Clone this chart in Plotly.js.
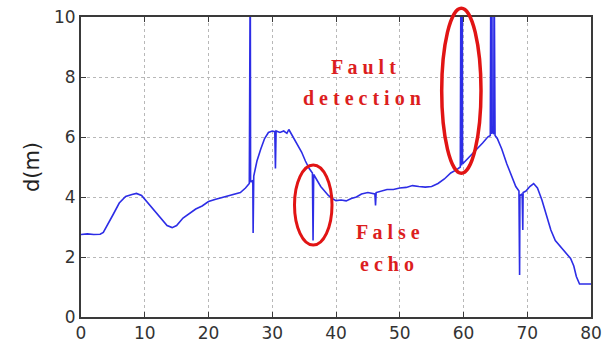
<!DOCTYPE html>
<html><head><meta charset="utf-8">
<script src="https://cdn.plot.ly/plotly-3.0.1.min.js"></script>
<style>html,body{margin:0;padding:0;background:#fff;}#chart{width:608px;height:345px;}</style>
</head><body><div id="chart"></div>
<script>
const distanceX = [0,1,2,3,3.5,4,5,6,7,8,8.7,9.5,10.5,11.5,12.5,13.5,14.3,15,16,17,18,19,20,21,22,23,24,25,25.8,26.4,26.55,26.6,26.95,27.0,27.1,27.6,28.2,28.8,29.4,30.0,30.4,30.5,30.6,31.2,31.8,32.3,32.6,33.0,33.4,34.0,34.6,35.2,35.8,36.3,36.4,36.5,37.0,37.6,38.2,38.8,39.4,40.0,40.8,41.6,42.4,43.2,44.0,45.0,46.1,46.2,46.3,47.0,48.0,49.0,50.0,51.0,52.0,53.0,54.0,55.0,56.0,57.0,58.0,59.0,59.5,59.6,59.7,59.8,59.85,60.3,61.0,62.0,63.0,63.8,64.2,64.3,64.35,64.45,64.5,64.75,64.8,64.85,64.9,64.95,65.3,66.0,66.8,67.5,68.2,68.7,68.8,68.85,69.2,69.3,69.35,69.8,70.4,71.0,71.6,72.3,73.0,73.7,74.4,75.2,76.0,76.8,77.3,77.7,78.2,79.0,80.0];
const depthD = [2.75,2.77,2.75,2.76,2.82,3.0,3.4,3.8,4.02,4.08,4.12,4.05,3.8,3.55,3.3,3.05,2.98,3.05,3.3,3.45,3.6,3.7,3.85,3.92,3.98,4.02,4.1,4.15,4.3,4.45,12,4.5,4.55,2.8,4.7,5.2,5.6,5.95,6.15,6.2,6.18,4.95,6.2,6.15,6.2,6.12,6.25,6.1,5.95,5.75,5.5,5.2,4.95,4.8,2.55,4.75,4.55,4.35,4.2,4.05,3.95,3.88,3.9,3.87,3.95,4.0,4.1,4.15,4.1,3.72,4.15,4.2,4.25,4.25,4.3,4.32,4.38,4.35,4.33,4.35,4.45,4.6,4.8,4.92,5.0,12,5.05,12,5.1,5.2,5.35,5.55,5.8,6.0,6.05,12,6.1,12,6.15,6.1,12,6.1,12,6.05,5.95,5.6,5.1,4.7,4.35,4.2,1.4,4.05,4.1,2.9,4.15,4.2,4.35,4.45,4.3,3.9,3.4,2.9,2.55,2.35,2.15,1.95,1.7,1.35,1.1,1.1,1.1];
const xTicks = [0,10,20,30,40,50,60,70,80];
const yTicks = [0,2,4,6,8,10];
const labels = ["Fault","detection","False","echo"];

const spaced = s => s.split('').join(' ');
const red = 'rgb(220,30,30)';
const annFont = {family:'"Liberation Serif", "Times New Roman", serif', size:20, color:red, weight:'bold'};

const axisCommon = {
  showline:true, mirror:'ticks', linecolor:'#3a3a3a', linewidth:2,
  ticks:'inside', ticklen:5, tickcolor:'#3a3a3a', tickwidth:1,
  showgrid:true, gridcolor:'#b8b8b8', griddash:'dot', gridwidth:1,
  zeroline:false, tickfont:{family:'"DejaVu Sans", sans-serif', size:17, color:'#333'}
};

const trace = {x:distanceX, y:depthD, type:'scatter', mode:'lines',
  line:{color:'rgb(45,45,230)', width:1.6}, hoverinfo:'skip'};

const layout = {
  width:608, height:345,
  margin:{l:81, r:17, t:17, b:28},
  paper_bgcolor:'#fff', plot_bgcolor:'#fff',
  showlegend:false,
  xaxis:Object.assign({}, axisCommon, {range:[0,80], tickvals:xTicks, ticktext:xTicks.map(String)}),
  yaxis:Object.assign({}, axisCommon, {range:[0,10], tickvals:yTicks, ticktext:yTicks.map(String),
    title:{text:'d(m)', font:{family:'"DejaVu Sans", sans-serif', size:21, color:'#222'}, standoff:9}}),
  annotations:[
    {xref:'x', yref:'y', x:44.35, y:8.32, text:spaced(labels[0]), showarrow:false, font:annFont, xanchor:'center', yanchor:'middle'},
    {xref:'x', yref:'y', x:44.0, y:7.3, text:spaced(labels[1]), showarrow:false, font:annFont, xanchor:'center', yanchor:'middle'},
    {xref:'x', yref:'y', x:48.1, y:2.83, text:spaced(labels[2]), showarrow:false, font:annFont, xanchor:'center', yanchor:'middle'},
    {xref:'x', yref:'y', x:48.0, y:1.78, text:spaced(labels[3]), showarrow:false, font:annFont, xanchor:'center', yanchor:'middle'}
  ],
  shapes:[
    {type:'circle', xref:'paper', yref:'paper', x0:(441.7-81)/510, x1:(481-81)/510, y0:(317-173.3)/300, y1:(317-8.3)/300,
      line:{color:'rgb(225,20,20)', width:3.5}, layer:'above'},
    {type:'circle', xref:'paper', yref:'paper', x0:(294.5-81)/510, x1:(332-81)/510, y0:(317-245)/300, y1:(317-165)/300,
      line:{color:'rgb(225,20,20)', width:3}, layer:'above'}
  ]
};
Plotly.newPlot('chart', [trace], layout, {staticPlot:true, displayModeBar:false});
</script>
</body></html>
